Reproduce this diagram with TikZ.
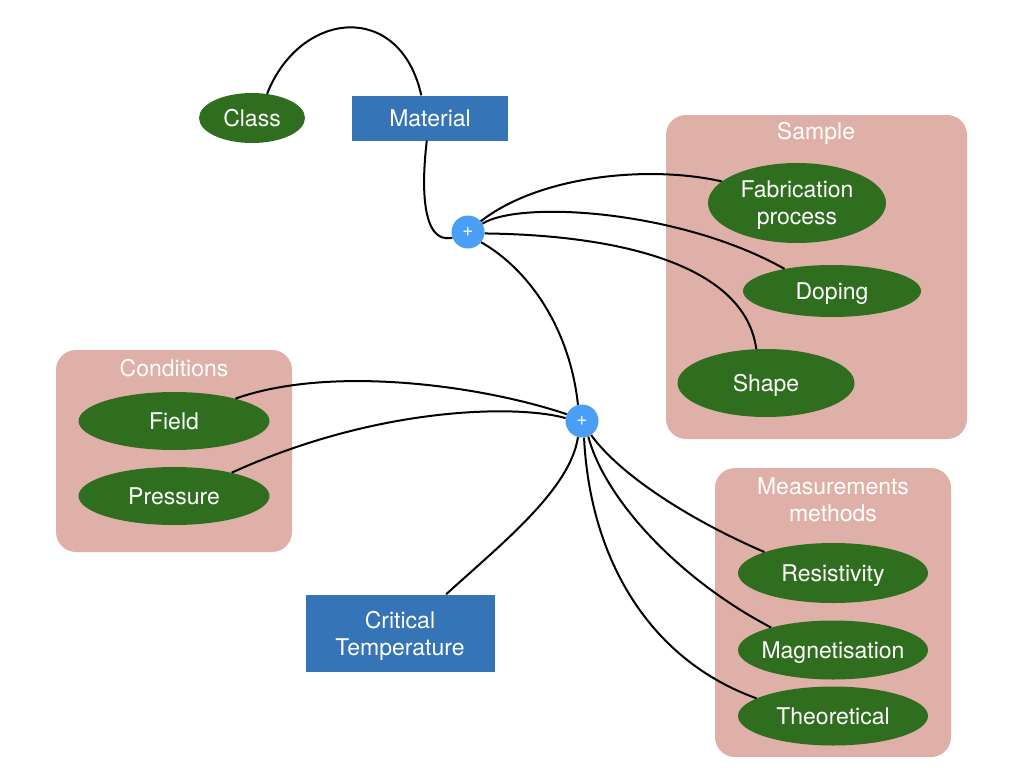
\documentclass[tikz,border=0pt]{standalone}
\usepackage{fontspec}
\setmainfont{TeX Gyre Heros}
\usetikzlibrary{shapes.geometric}
\definecolor{leaf}{RGB}{47,110,31}
\definecolor{boxblue}{RGB}{53,116,182}
\definecolor{grp}{RGB}{223,176,168}
\definecolor{hub}{RGB}{74,159,245}
\begin{document}
\begin{tikzpicture}[x=1pt,y=-1pt,
 txt/.style={text=white,font=\fontsize{23}{27}\selectfont,align=center},
 leafnode/.style={ellipse,fill=leaf,inner sep=0pt,txt,text depth=0pt},
 boxnode/.style={rectangle,fill=boxblue,inner sep=0pt,txt,text depth=0pt},
 grpbox/.style={rectangle,rounded corners=20pt,fill=grp,inner sep=0pt},
 hubnode/.style={circle,fill=hub,minimum size=33pt,inner sep=0pt,text=white,font=\fontsize{19}{19}\selectfont},
 link/.style={line width=2pt}]
\fill[white] (0,0) rectangle (1024,768);
\useasboundingbox (0,0) rectangle (1024,768);

% groups
\node[grpbox, minimum width=301pt, minimum height=324pt] (samplegrp) at (816.5,277) {};
\node[grpbox, minimum width=236pt, minimum height=202pt] (condgrp) at (174,451) {};
\node[grpbox, minimum width=236pt, minimum height=289pt] (measgrp) at (833,612.5) {};
\node[txt] (samplelbl) at (816,133) {Sample};
\node[txt] (condlbl) at (174,368) {Conditions};
\node[txt] (measlbl) at (833,500) {Measurements\\methods};

% main nodes
\node[leafnode, minimum width=106pt, minimum height=50pt] (class) at (252,118) {Class};
\node[boxnode, minimum width=156pt, minimum height=45pt] (material) at (430,118) {Material};
\node[boxnode, minimum width=189pt, minimum height=77pt] (critical) at (400,633) {Critical\\Temperature};
\node[hubnode] (hubA) at (468,232) {+};
\node[hubnode] (hubB) at (582,421) {+};

\node[leafnode, minimum width=178pt, minimum height=80pt] (fab) at (797,203) {Fabrication\\process};
\node[leafnode, minimum width=178pt, minimum height=52pt] (doping) at (832,291) {Doping};
\node[leafnode, minimum width=177pt, minimum height=68pt] (shape) at (766,383) {Shape};

\node[leafnode, minimum width=191pt, minimum height=58pt] (field) at (174,421) {Field};
\node[leafnode, minimum width=191pt, minimum height=58pt] (pressure) at (174,496) {Pressure};

\node[leafnode, minimum width=190pt, minimum height=60pt] (resist) at (833,573) {Resistivity};
\node[leafnode, minimum width=190pt, minimum height=59pt, inner xsep=-22pt] (magnet) at (833,650) {Magnetisation};
\node[leafnode, minimum width=190pt, minimum height=59pt] (theo) at (833,716) {Theoretical};

% connectors
\draw[link] (class.58) .. controls (300,10) and (400,0) .. (material.111);
\draw[link] (material.262) .. controls (422,180) and (420,245) .. (hubA.200);
\draw[link] (hubA.40) .. controls (540,175) and (650,165) .. (fab.164);
\draw[link] (hubA.30) .. controls (520,200) and (680,210) .. (doping.155);
\draw[link] (hubA.355) .. controls (620,235) and (745,265) .. (shape.106);
\draw[link] (hubA.322) .. controls (530,270) and (570,330) .. (hubB.104);
\draw[link] (hubB.156) .. controls (480,385) and (330,365) .. (field.20);
\draw[link] (hubB.170) .. controls (520,405) and (380,405) .. (pressure.22);
\draw[link] (hubB.256) .. controls (570,490) and (500,545) .. (critical.40);
\draw[link] (hubB.303) .. controls (620,475) and (690,520) .. (resist.163);
\draw[link] (hubB.292) .. controls (605,500) and (680,580) .. (magnet.160);
\draw[link] (hubB.277) .. controls (590,560) and (650,660) .. (theo.167);
\end{tikzpicture}
\end{document}
